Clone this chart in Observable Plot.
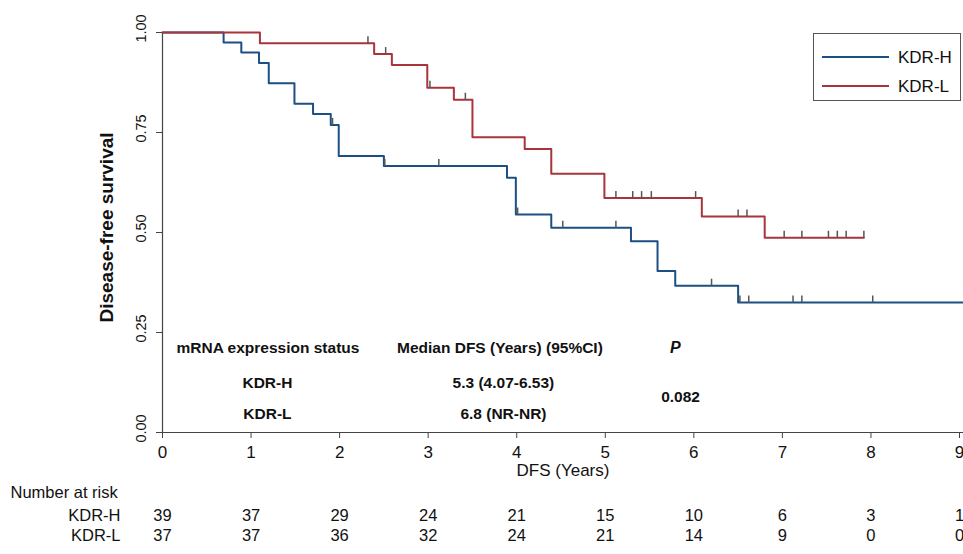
<!DOCTYPE html>
<html>
<head>
<meta charset="utf-8">
<script src="https://cdn.jsdelivr.net/npm/d3@7"></script>
<script src="https://cdn.jsdelivr.net/npm/@observablehq/plot@0.6"></script>
<style>
  html, body { margin: 0; padding: 0; background: #fff; }
  #wrap { position: relative; width: 963px; height: 554px; font-family: "Liberation Sans", Arial, sans-serif; }
  #legend { position: absolute; left: 813px; top: 33px; width: 148px; height: 68px; box-sizing: border-box;
            border: 1px solid #555; background: #fff; }
  #legend svg { display: block; }
</style>
</head>
<body>
<div id="wrap">
  <div id="chart"></div>
  <div id="legend"></div>
</div>
<script>
// Kaplan–Meier disease-free survival by KDR mRNA expression
const groups = ["KDR-H", "KDR-L"];
const colors = ["#1c4f84", "#a8343c"];

// Step curves: time (years) and survival after each event
const hTimes = [0, 0.69, 0.89, 1.09, 1.20, 1.49, 1.70, 1.90, 1.99, 2.50, 3.89, 3.99, 4.39, 5.29, 5.59, 5.79, 6.50, 9.045];
const hSurv  = [1, 0.975, 0.950, 0.924, 0.873, 0.822, 0.796, 0.769, 0.691, 0.666, 0.637, 0.545, 0.512, 0.478, 0.404, 0.367, 0.325, 0.325];
const lTimes = [0, 1.10, 2.39, 2.59, 2.99, 3.29, 3.50, 4.09, 4.39, 4.99, 6.09, 6.80, 7.92];
const lSurv  = [1, 0.973, 0.946, 0.919, 0.862, 0.832, 0.738, 0.709, 0.647, 0.586, 0.540, 0.487, 0.487];

// Censored observations (time, survival level)
const hCensT = [1.92, 2.51, 3.12, 4.01, 4.52, 5.12, 6.20, 6.52, 6.62, 7.12, 7.22, 8.02];
const hCensS = [0.769, 0.666, 0.666, 0.545, 0.512, 0.512, 0.367, 0.325, 0.325, 0.325, 0.325, 0.325];
const lCensT = [2.32, 2.52, 3.02, 3.42, 5.12, 5.31, 5.41, 5.52, 6.02, 6.50, 6.60, 7.02, 7.22, 7.52, 7.62, 7.72, 7.92];
const lCensS = [0.973, 0.946, 0.862, 0.832, 0.586, 0.586, 0.586, 0.586, 0.586, 0.540, 0.540, 0.487, 0.487, 0.487, 0.487, 0.487, 0.487];

// Number at risk
const years = [0, 1, 2, 3, 4, 5, 6, 7, 8, 9];
const riskH = [39, 37, 29, 24, 21, 15, 10, 6, 3, 1];
const riskL = [37, 37, 36, 32, 24, 21, 14, 9, 0, 0];

const yTicks = [0, 0.25, 0.5, 0.75, 1];

const curveH = hTimes.map((t, i) => ({t, s: hSurv[i]}));
const curveL = lTimes.map((t, i) => ({t, s: lSurv[i]}));
const censH = hCensT.map((t, i) => ({t, s: hCensS[i]}));
const censL = lCensT.map((t, i) => ({t, s: lCensS[i]}));
const riskRowsH = years.map((t, i) => ({t, n: riskH[i]}));
const riskRowsL = years.map((t, i) => ({t, n: riskL[i]}));

// Summary table inside the plot (positions in data units)
const tableLeft = [
  {t: 0.158, s: 0.212, text: "mRNA expression status"}
];
const tableCentered = [
  {t: 3.81, s: 0.212, text: "Median DFS (Years) (95%CI)"},
  {t: 1.185, s: 0.1225, text: "KDR-H"},
  {t: 3.85, s: 0.1225, text: "5.3 (4.07-6.53)"},
  {t: 1.185, s: 0.045, text: "KDR-L"},
  {t: 3.85, s: 0.045, text: "6.8 (NR-NR)"},
  {t: 5.85, s: 0.088, text: "0.082"}
];
const tableItalic = [
  {t: 5.79, s: 0.212, text: "P"}
];

// upward censoring tick
const censorTick = { draw(ctx) { ctx.moveTo(0, 0); ctx.lineTo(0, -7); } };

const axisColor = "#444";
const ink = "#111";

const chart = Plot.plot({
  width: 963,
  height: 554,
  marginLeft: 162,
  marginRight: 0,
  marginTop: 32,
  marginBottom: 122,
  x: {domain: [0, 9.045]},
  y: {domain: [0, 1]},
  style: {fontFamily: "'Liberation Sans', Arial, sans-serif", background: "#fff", color: "#222"},
  marks: [
    // y ticks and (separately) their rotated labels, nudged up a little
    Plot.axisY({ticks: yTicks, tickSize: 6, text: null, stroke: axisColor, label: null}),
    Plot.axisY({ticks: yTicks, tickFormat: d3.format(".2f"), tickRotate: -90, tickSize: 0, tickPadding: 17,
                dy: -4, fontSize: 14.5, fill: ink, label: null}),
    Plot.axisX({ticks: years, tickFormat: d => String(d), tickSize: 6, tickPadding: 7,
                fontSize: 17, stroke: axisColor, fill: ink, label: null}),
    Plot.ruleX([0], {stroke: axisColor, strokeWidth: 1.2}),
    Plot.ruleY([0], {stroke: axisColor, strokeWidth: 1.2}),
    Plot.text(["Disease-free survival"], {frameAnchor: "left", textAnchor: "middle", dx: -56, dy: -5, rotate: -90,
                fontWeight: "bold", fontSize: 19, fill: ink}),
    Plot.text(["DFS (Years)"], {frameAnchor: "bottom", dy: 43, fontSize: 17, fill: ink}),

    // step curves
    Plot.line(curveH, {x: "t", y: "s", curve: "step-after", stroke: colors[0], strokeWidth: 2}),
    Plot.line(curveL, {x: "t", y: "s", curve: "step-after", stroke: colors[1], strokeWidth: 2}),
    Plot.dot(censH, {x: "t", y: "s", symbol: censorTick, stroke: "#555", strokeWidth: 1.5, fill: "none"}),
    Plot.dot(censL, {x: "t", y: "s", symbol: censorTick, stroke: "#555", strokeWidth: 1.5, fill: "none"}),

    // summary table
    Plot.text(tableLeft, {x: "t", y: "s", text: "text", textAnchor: "start", fontWeight: "bold", fontSize: 15.5, fill: ink}),
    Plot.text(tableCentered, {x: "t", y: "s", text: "text", textAnchor: "middle", fontWeight: "bold", fontSize: 15.5, fill: ink}),
    Plot.text(tableItalic, {x: "t", y: "s", text: "text", textAnchor: "middle", fontWeight: "bold", fontStyle: "italic", fontSize: 16, fill: ink}),

    // number at risk
    Plot.text(["Number at risk"], {frameAnchor: "bottom-left", dx: -152, dy: 65, textAnchor: "start", fontSize: 16.5, fill: ink}),
    Plot.text([groups[0]], {frameAnchor: "bottom-left", dx: -42, dy: 88, textAnchor: "end", fontSize: 16.5, fill: ink}),
    Plot.text([groups[1]], {frameAnchor: "bottom-left", dx: -42, dy: 108, textAnchor: "end", fontSize: 16.5, fill: ink}),
    Plot.text(riskRowsH, {x: "t", frameAnchor: "bottom", dy: 88, text: "n", fontSize: 16.5, fill: ink}),
    Plot.text(riskRowsL, {x: "t", frameAnchor: "bottom", dy: 108, text: "n", fontSize: 16.5, fill: ink})
  ]
});
document.getElementById("chart").appendChild(chart);

// legend box
const leg = d3.select("#legend").append("svg").attr("width", 146).attr("height", 66);
groups.forEach((g, i) => {
  const y = 23 + i * 29;
  leg.append("line").attr("x1", 8).attr("x2", 75).attr("y1", y).attr("y2", y)
    .attr("stroke", colors[i]).attr("stroke-width", 2);
  leg.append("text").attr("x", 84).attr("y", y).attr("dy", "0.35em")
    .attr("font-size", 17).attr("font-family", "'Liberation Sans', Arial, sans-serif").attr("fill", ink).text(g);
});
</script>
</body>
</html>
